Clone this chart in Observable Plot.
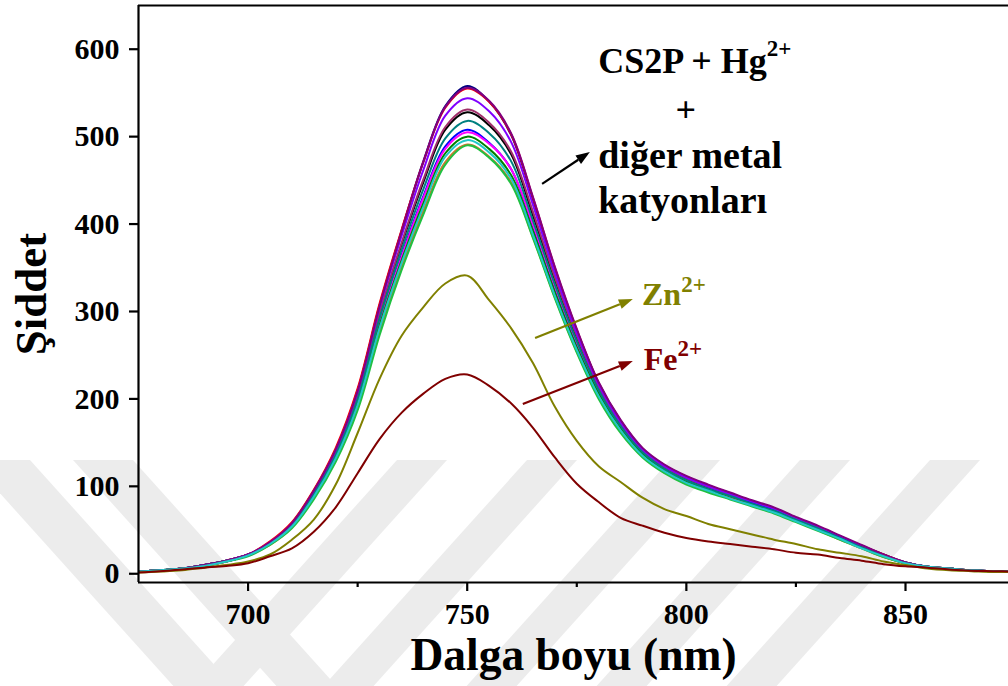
<!DOCTYPE html>
<html>
<head>
<meta charset="utf-8">
<script src="https://cdn.jsdelivr.net/npm/d3@7"></script>
<script src="https://cdn.jsdelivr.net/npm/@observablehq/plot@0.6"></script>
<style>
  html, body { margin: 0; padding: 0; background: #fff; overflow: hidden; }
  #chart svg text { font-family: "Liberation Serif", "Times New Roman", serif; font-weight: bold; }
</style>
</head>
<body>
<div id="chart"></div>
<script>
// Emission wavelengths (nm)
const wavelength = [675, 680, 685, 690, 695, 700, 705, 710, 715, 720, 725, 730, 735, 740, 745, 750, 755, 760, 765, 770,
                    775, 780, 785, 790, 795, 800, 805, 810, 815, 820, 825, 830, 835, 840, 845, 850, 855, 860, 865, 870, 875];

// CS2P + Hg2+ with the other metal cations (one spectrum per cation)
const sNavy    = [2.5,4,6,10,15,22,36,58,95,142,210,307,392,472,535,558,540,502,428,348,278,218,175,143,124,111,101,92,83,75,64,54,43,32,22,13,8,6,4,3,2.5];
const sRed     = [2.5,4,6,10,15,22,37,59,96,144,212,309,393,471,533,555,540,503,430,350,279,218,175,143,124,111,101,92,83,75,64,54,43,32,22,13,8,6,4,3,2.5];
const sPurple  = [2.5,4,6,10,15,22,36,58,95,142,209,306,391,471,534,556,541,504,431,351,280,219,176,144,125,112,102,93,84,76,65,55,44,33,22,13,8,6,4,3,2.5];
const sViolet  = [2.5,4,6,10,15,22,36,57,94,141,208,304,386,462,524,544,529,494,422,344,275,216,173,142,123,110,100,91,82,74,63,53,42,31,21,13,8,6,4,3,2.5];
const sWine    = [2.5,4,6,10,15,22,35,56,92,138,204,298,378,451,511,531,516,483,414,339,272,214,172,141,122,109,99,90,81,73,62,52,42,31,21,13,8,6,4,3,2.5];
const sBlack   = [2.5,4,6,10,15,22,35,56,92,138,203,296,376,448,508,528,513,480,410,336,270,213,171,140,121,108,98,89,81,73,62,52,41,31,21,13,8,6,4,3,2.5];
const sTeal    = [2.5,4,6,10,15,21,35,55,91,136,200,292,370,440,498,518,504,472,404,331,266,210,169,139,120,107,97,89,80,72,62,52,41,30,21,13,8,6,4,3,2.5];
const sBlue    = [2.5,4,6,9,14,21,34,55,90,135,198,288,364,432,489,508,493,463,397,326,262,208,168,138,119,106,97,88,80,72,61,51,41,30,20,12,8,6,4,3,2.5];
const sMagenta = [2.5,4,6,9,14,21,34,55,90,135,198,287,362,430,486,505,492,463,399,328,264,209,168,138,119,106,96,88,79,71,61,51,40,30,20,12,8,6,4,3,2.5];
const sGreenD  = [2.5,4,6,9,14,21,34,54,89,133,195,284,358,424,481,500,486,456,392,322,259,206,166,137,118,105,96,87,79,71,61,51,40,30,20,12,8,6,4,3,2.5];
const sCyan    = [2.5,4,6,9,14,21,34,54,88,132,193,281,355,420,477,496,482,452,388,318,256,203,164,135,117,104,95,86,78,70,60,50,40,29,20,12,8,6,4,3,2.5];
const sOrange  = [2.5,4,6,9,14,21,33,53,87,131,191,278,351,415,471,491,477,448,385,316,254,202,163,134,116,103,94,86,78,70,60,50,39,29,19,12,8,6,4,3,2.5];
const sGreen   = [2.5,4,6,9,14,20,33,52,85,128,187,273,347,411,468,490,476,446,384,315,253,200,161,133,115,102,93,85,77,69,59,49,39,29,19,12,8,6,4,3,2.5];

// Quenched spectra
const zn = [1.5,2.5,4,7,10,14,22,39,62,102,161,223,272,305,332,341,313,281,241,191,152,123,105,87,74,66,57,51,45,39,34,28,24,20,14,10,6,4,3,2,2];
const fe = [1.5,3,5,7,9,12,20,29,48,76,115,154,184,206,223,228,215,195,167,133,103,82,64,55,47,41,37,34,31,28,24,22,18,15,11,8.5,7,5,3.5,3,2.5];

// Series drawing order and colours
const seriesList = [
  ["navy", sNavy, "#000080"], ["red", sRed, "#ff0000"], ["black", sBlack, "#000000"],
  ["wine", sWine, "#a0306a"], ["violet", sViolet, "#8000ff"], ["blue", sBlue, "#0000ff"],
  ["magenta", sMagenta, "#ff00ff"], ["darkgreen", sGreenD, "#008000"], ["orange", sOrange, "#c8782d"],
  ["green", sGreen, "#20c040"], ["teal", sTeal, "#008080"], ["purple", sPurple, "#800080"],
  ["cyan", sCyan, "#20c8c8"], ["zn", zn, "#808000"], ["fe", fe, "#800000"]
];

// Axis ticks
const yTicks = [0, 100, 200, 300, 400, 500, 600];
const xMajor = [700, 750, 800, 850];
const xMinor = [725, 775, 825];

const rows = seriesList.flatMap(([name, values, color]) =>
  values.map((v, i) => ({series: name, color, wavelength: wavelength[i], intensity: v})));

const chart = Plot.plot({
  width: 1008,
  height: 686,
  marginLeft: 138,
  marginRight: 0,
  marginTop: 5,
  marginBottom: 104,
  x: {domain: [675, 873.5]},
  y: {domain: [-10, 650]},
  color: {type: "identity"},
  style: {fontFamily: '"Liberation Serif", "Times New Roman", serif', fontWeight: "bold", color: "black", background: "white"},
  marks: [
    Plot.line(rows, {x: "wavelength", y: "intensity", z: "series", stroke: "color", strokeWidth: 2, curve: "catmull-rom", clip: true}),
    Plot.ruleX([675], {strokeWidth: 2.2}),
    Plot.ruleY([-10], {strokeWidth: 2.2}),
    Plot.ruleY([650], {strokeWidth: 2.2}),
    Plot.axisY({ticks: yTicks, tickSize: 9, tickPadding: 10, fontSize: 30, strokeWidth: 2.2, label: null}),
    Plot.axisX({ticks: xMajor, tickSize: 9, tickPadding: 11, fontSize: 30, strokeWidth: 2.2, label: null}),
    Plot.axisX({ticks: xMinor, tickSize: 5, tickFormat: () => "", strokeWidth: 2.2, label: null}),
    Plot.text(["Dalga boyu (nm)"], {text: d => d, frameAnchor: "bottom", textAnchor: "middle", lineAnchor: "middle", dy: 73, fontSize: 45.5}),
    Plot.text(["Şiddet"], {text: d => d, frameAnchor: "left", textAnchor: "middle", lineAnchor: "middle", dx: -107, rotate: -90, fontSize: 45})
  ]
});

document.getElementById("chart").appendChild(chart);

const svg = d3.select(chart);

// Faint diagonal background bands (page watermark), behind everything
const bandTop = 460, bandBottom = 686, bandWidth = 50, slant = 0.9;
const forwardBands = [397, 527, 670, 800, 930];   // "/" bands: left x of top edge
const backBands = [73, -30];                       // "\" bands: left x of top edge
const wm = svg.insert("g", ":first-child").attr("fill", "#ececec");
const drop = (bandBottom - bandTop) * slant;
forwardBands.forEach(L => wm.append("polygon").attr("points",
  [[L, bandTop], [L + bandWidth, bandTop], [L + bandWidth - drop, bandBottom], [L - drop, bandBottom]].join(" ")));
backBands.forEach(L => wm.append("polygon").attr("points",
  [[L, bandTop], [L + bandWidth + 10, bandTop], [L + bandWidth + 10 + drop, bandBottom], [L + drop, bandBottom]].join(" ")));
wm.lower();
svg.select("style").lower();

// Annotations: labels with superscripts and filled arrows, placed in data units
const sx = chart.scale("x"), sy = chart.scale("y");
const ann = svg.append("g").attr("font-family", '"Liberation Serif", "Times New Roman", serif').attr("font-weight", "bold");

function label(x, y, text, sup, size, color, anchor = "start", supRise = 17) {
  const t = ann.append("text")
    .attr("x", sx.apply(x)).attr("y", sy.apply(y))
    .attr("font-size", size).attr("fill", color).attr("text-anchor", anchor);
  t.append("tspan").text(text);
  if (sup) t.append("tspan").attr("dy", -supRise).attr("font-size", 23).text(sup);
}

function arrow(x1, y1, x2, y2, color) {
  const ax = sx.apply(x1), ay = sy.apply(y1), bx = sx.apply(x2), by = sy.apply(y2);
  const len = Math.hypot(bx - ax, by - ay), ux = (bx - ax) / len, uy = (by - ay) / len;
  const head = 14, half = 5;
  const cx = bx - ux * head, cy = by - uy * head;
  ann.append("line").attr("x1", ax).attr("y1", ay).attr("x2", cx).attr("y2", cy)
    .attr("stroke", color).attr("stroke-width", 2.2);
  ann.append("polygon")
    .attr("points", [[bx, by], [cx - uy * half, cy + ux * half], [cx + uy * half, cy - ux * half]].map(p => p.join(",")).join(" "))
    .attr("fill", color);
}

label(780, 572, "CS2P + Hg", "2+", 36, "#000");
label(800, 516, "+", null, 36, "#000", "middle");
label(780, 464, "diğer metal", null, 38, "#000");
label(780, 412, "katyonları", null, 38, "#000");
arrow(767.2, 445.3, 778.1, 481.9, "#000");

label(790, 307, "Zn", "2+", 32, "#808000", "start", 13);
arrow(765.6, 269.1, 787.9, 313.7, "#808000");

label(790.4, 232.5, "Fe", "2+", 32, "#800000", "start", 14);
arrow(762.8, 193.6, 787.9, 242.8, "#800000");
</script>
</body>
</html>
